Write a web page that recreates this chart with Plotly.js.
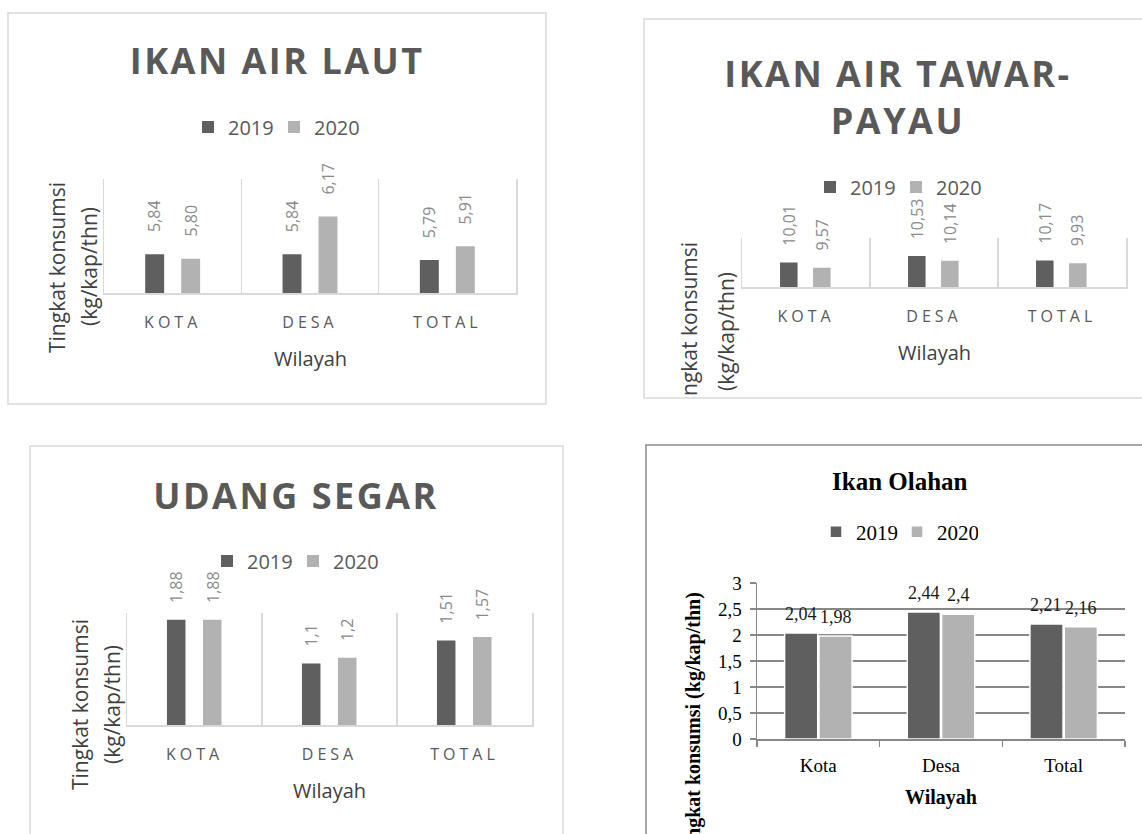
<!DOCTYPE html>
<html>
<head>
<meta charset="utf-8">
<script src="https://cdn.plot.ly/plotly-3.0.1.min.js"></script>
<style>
  html, body { margin: 0; padding: 0; background: #ffffff; }
  #chart { width: 1142px; height: 834px; }
  g.annotation[data-index="0"] text,
  g.annotation[data-index="1"] text,
  g.annotation[data-index="2"] text { letter-spacing: 2.5px; }
  g.xtick text, g.x2tick text, g.x3tick text { letter-spacing: 4px; }
</style>
</head>
<body>
<div id="chart"></div>
<script>
// ---------- data ----------
const years = ['2019', '2020'];
const wilayahUpper = ['KOTA', 'DESA', 'TOTAL'];
const wilayahLower = ['Kota', 'Desa', 'Total'];

const lautTitle = 'IKAN AIR LAUT';
const laut2019 = [5.84, 5.84, 5.79];
const laut2020 = [5.80, 6.17, 5.91];

const tawarTitle = 'IKAN AIR TAWAR-<br>PAYAU';
const tawar2019 = [10.01, 10.53, 10.17];
const tawar2020 = [9.57, 10.14, 9.93];

const udangTitle = 'UDANG SEGAR';
const udang2019 = [1.88, 1.1, 1.51];
const udang2020 = [1.88, 1.2, 1.57];

const olahanTitle = 'Ikan Olahan';
const olahan2019 = [2.04, 2.44, 2.21];
const olahan2020 = [1.98, 2.4, 2.16];

const yTitleLine1 = 'Tingkat konsumsi';
const yTitleLine2 = '(kg/kap/thn)';
const xTitle = 'Wilayah';

// ---------- helpers ----------
const W = 1142, H = 834;
const px = x => x / W;
const py = y => 1 - y / H;
const fmt2 = v => v.toFixed(2).replace('.', ',');
const fmtRaw = v => String(v).replace('.', ',');

const C19 = '#5f5f5f', C20 = '#b2b2b2';
const SANS = 'Open Sans, sans-serif';
const SERIF = 'Liberation Serif, Times New Roman, serif';

const traces = [];
const annotations = [];

const paperNote = (text, x, y, font, extra) => Object.assign({
  text: text, xref: 'paper', yref: 'paper', x: px(x), y: py(y), showarrow: false,
  xanchor: 'center', yanchor: 'middle', font: font
}, extra || {});

// titles first (indices 0..2 get letter spacing through CSS)
const titleFont = {family: SANS, size: 36, weight: 700, color: '#595959'};
annotations.push(paperNote(lautTitle, 277, 60, titleFont));
annotations.push(paperNote(tawarTitle, 898, 97, titleFont));
annotations.push(paperNote(udangTitle, 296, 495, titleFont));
annotations.push(paperNote(olahanTitle, 900, 482, {family: SERIF, size: 25, weight: 700, color: '#000000'}));

// panel definitions (style only)
const panels = [
  {ax: '', cats: wilayahUpper, s19: laut2019, s20: laut2020, fmt: fmt2, legend: 'legend', bw: 0.138, o19: -0.2, o20: 0.062, shift: 20},
  {ax: '2', cats: wilayahUpper, s19: tawar2019, s20: tawar2020, fmt: fmt2, legend: 'legend2', bw: 0.137, o19: -0.203, o20: 0.055, shift: 15},
  {ax: '3', cats: wilayahUpper, s19: udang2019, s20: udang2020, fmt: fmtRaw, legend: 'legend3', bw: 0.137, o19: -0.204, o20: 0.063, shift: 15},
  {ax: '4', cats: wilayahLower, s19: olahan2019, s20: olahan2020, fmt: fmtRaw, legend: 'legend4', bw: 0.27, o19: -0.275, o20: 0.005, shift: 7}
];

panels.forEach((p, k) => {
  const xa = 'x' + p.ax, ya = 'y' + p.ax;
  const serif = k === 3;
  const series = [[years[0], p.s19, C19, p.o19], [years[1], p.s20, C20, p.o20]];
  series.forEach(([name, vals, col, off]) => {
    traces.push({
      type: 'bar', name: name, x: p.cats, y: vals, xaxis: xa, yaxis: ya,
      width: p.bw, offset: off, legend: p.legend, hoverinfo: 'skip',
      marker: {color: col, line: serif ? {color: '#ffffff', width: 1.5} : {width: 0}}
    });
    vals.forEach((v, i) => {
      annotations.push({
        text: p.fmt(v), xref: xa, yref: ya, x: i + off + p.bw / 2, y: v,
        showarrow: false, xanchor: 'center', yanchor: 'bottom', yshift: p.shift,
        textangle: serif ? 0 : -90,
        font: serif ? {family: SERIF, size: 18, color: '#1a1a1a'} : {family: SANS, size: 16, color: '#8a8a8a'}
      });
    });
  });
});

// axis titles
const ytFont = {family: SANS, size: 21, color: '#404040'};
const yt = (text, x, y, extra) => paperNote(text, x, y, ytFont, Object.assign({textangle: -90}, extra || {}));
annotations.push(yt(yTitleLine1, 57, 267));
annotations.push(yt(yTitleLine2, 89, 267));
annotations.push(yt(yTitleLine1.slice(2), 689, 398, {yanchor: 'bottom'}));
annotations.push(yt(yTitleLine2, 726, 332));
annotations.push(yt(yTitleLine1, 80, 705));
annotations.push(yt(yTitleLine2, 112, 705));
annotations.push(yt(yTitleLine1 + ' ' + yTitleLine2, 693, 591,
  {yanchor: 'top', font: {family: SERIF, size: 20, weight: 700, color: '#000000'}}));

const xtFont = {family: SANS, size: 20, color: '#404040'};
annotations.push(paperNote(xTitle, 310, 358, xtFont));
annotations.push(paperNote(xTitle, 934, 352, xtFont));
annotations.push(paperNote(xTitle, 329.5, 790, xtFont));
annotations.push(paperNote(xTitle, 941, 797, {family: SERIF, size: 20, weight: 700, color: '#000000'}));

// axes
const lightX = (x0, x1) => ({
  domain: [px(x0), px(x1)], type: 'category', range: [-0.5, 2.5], tickson: 'boundaries',
  showgrid: true, gridcolor: '#d9d9d9', gridwidth: 1.5, showline: true, linecolor: '#d9d9d9', linewidth: 1.5,
  ticks: '', ticklabelstandoff: 14, tickfont: {family: SANS, size: 16, color: '#595959'}, fixedrange: true
});
const lightY = (y0, y1, r) => ({
  domain: [py(y1), py(y0)], range: r, showgrid: false, zeroline: false, showticklabels: false,
  showline: true, mirror: true, linecolor: '#d9d9d9', linewidth: 1.5, ticks: '', fixedrange: true
});

const legendOf = (x, y, font, ew) => ({
  orientation: 'h', x: px(x), y: py(y), xanchor: 'center', yanchor: 'middle',
  entrywidthmode: 'pixels', entrywidth: ew,
  font: font, bgcolor: 'rgba(0,0,0,0)', itemclick: false, itemdoubleclick: false, traceorder: 'normal'
});
const sansLegendFont = {family: SANS, size: 20, color: '#595959'};

const layout = {
  width: W, height: H, margin: {l: 0, r: 0, t: 0, b: 0},
  paper_bgcolor: '#ffffff', plot_bgcolor: 'rgba(0,0,0,0)',
  separators: ',.', showlegend: true, barmode: 'group', hovermode: false,
  xaxis: Object.assign(lightX(104, 516), {anchor: 'y'}),
  yaxis: Object.assign(lightY(179, 293, [5.5, 6.5]), {anchor: 'x'}),
  xaxis2: Object.assign(lightX(742, 1126), {anchor: 'y2'}),
  yaxis2: Object.assign(lightY(238, 287, [8, 12]), {anchor: 'x2'}),
  xaxis3: Object.assign(lightX(127, 532), {anchor: 'y3'}),
  yaxis3: Object.assign(lightY(613, 725, [0, 2]), {anchor: 'x3'}),
  xaxis4: {
    anchor: 'y4', domain: [px(757), px(1125)], type: 'category', range: [-0.5, 2.5], tickson: 'boundaries',
    showgrid: false, showline: true, linecolor: '#878787', linewidth: 1.5,
    ticks: 'outside', ticklen: 6, tickwidth: 1.5, tickcolor: '#878787', ticklabelstandoff: 9,
    tickfont: {family: SERIF, size: 19, color: '#000000'}, fixedrange: true
  },
  yaxis4: {
    anchor: 'x4', domain: [py(739), py(583)], range: [0, 3], dtick: 0.5,
    showgrid: true, gridcolor: '#878787', gridwidth: 1.5, zeroline: false,
    showline: true, linecolor: '#878787', linewidth: 1.5,
    ticks: 'outside', ticklen: 6, tickwidth: 1.5, tickcolor: '#878787', ticklabelstandoff: 4,
    tickfont: {family: SERIF, size: 19, color: '#000000'}, fixedrange: true
  },
  legend: legendOf(274, 127, sansLegendFont, 41),
  legend2: legendOf(896, 187, sansLegendFont, 41),
  legend3: legendOf(293, 561, sansLegendFont, 41),
  legend4: legendOf(897, 532, {family: SERIF, size: 21, color: '#000000'}, 36),
  shapes: [
    {type: 'rect', xref: 'paper', yref: 'paper', x0: px(8), x1: px(546), y0: py(13), y1: py(404), line: {color: '#d9d9d9', width: 1.5}},
    {type: 'rect', xref: 'paper', yref: 'paper', x0: px(644), x1: px(1160), y0: py(19), y1: py(398), line: {color: '#d9d9d9', width: 1.5}},
    {type: 'rect', xref: 'paper', yref: 'paper', x0: px(30), x1: px(563), y0: py(446), y1: py(860), line: {color: '#d9d9d9', width: 1.5}},
    {type: 'rect', xref: 'paper', yref: 'paper', x0: px(646), x1: px(1160), y0: py(445), y1: py(860), line: {color: '#8a8a8a', width: 1.5}}
  ],
  annotations: annotations
};

Plotly.newPlot('chart', traces, layout, {staticPlot: true, displayModeBar: false});
</script>
</body>
</html>
